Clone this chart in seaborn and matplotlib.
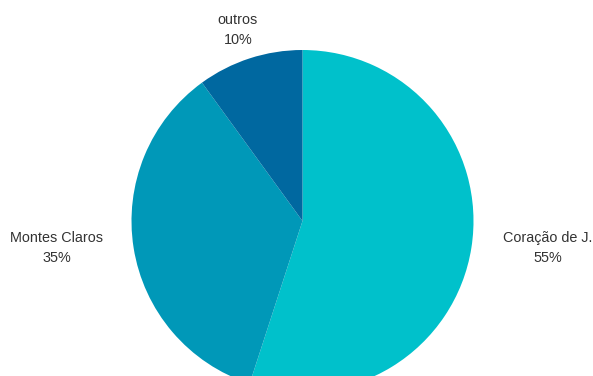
import matplotlib
matplotlib.use("Agg")
import matplotlib.pyplot as plt
import seaborn as sns

categories = ["Coração de J.", "Montes Claros", "outros"]
values = [55, 35, 10]
colors = ["#00C1CB", "#0098B8", "#0068A0"]

sns.set_theme(style="white")
plt.rcParams["font.family"] = ["Liberation Sans", "DejaVu Sans"]

W, H = 593, 376
fig = plt.figure(figsize=(W / 100, H / 100), dpi=100)
ax = fig.add_axes([0, 0, 1, 1])

cx, cy, r = 302.5, H - 221, 171
ax.pie(values, colors=colors, startangle=90, counterclock=False,
       center=(cx, cy), radius=r, frame=True,
       wedgeprops=dict(linewidth=0))
ax.set_xlim(0, W)
ax.set_ylim(0, H)
ax.set_aspect("equal")
ax.axis("off")

label_pos = {
    "Coração de J.": (548, H - 248),
    "Montes Claros": (56.5, H - 248),
    "outros": (238, H - 30),
}
for cat, val in zip(categories, values):
    x, y = label_pos[cat]
    ax.text(x, y, f"{cat}\n{val}%", ha="center", va="center",
            fontsize=10.4, color="#333333", linespacing=1.55)

fig.savefig("out.png", dpi=100)
